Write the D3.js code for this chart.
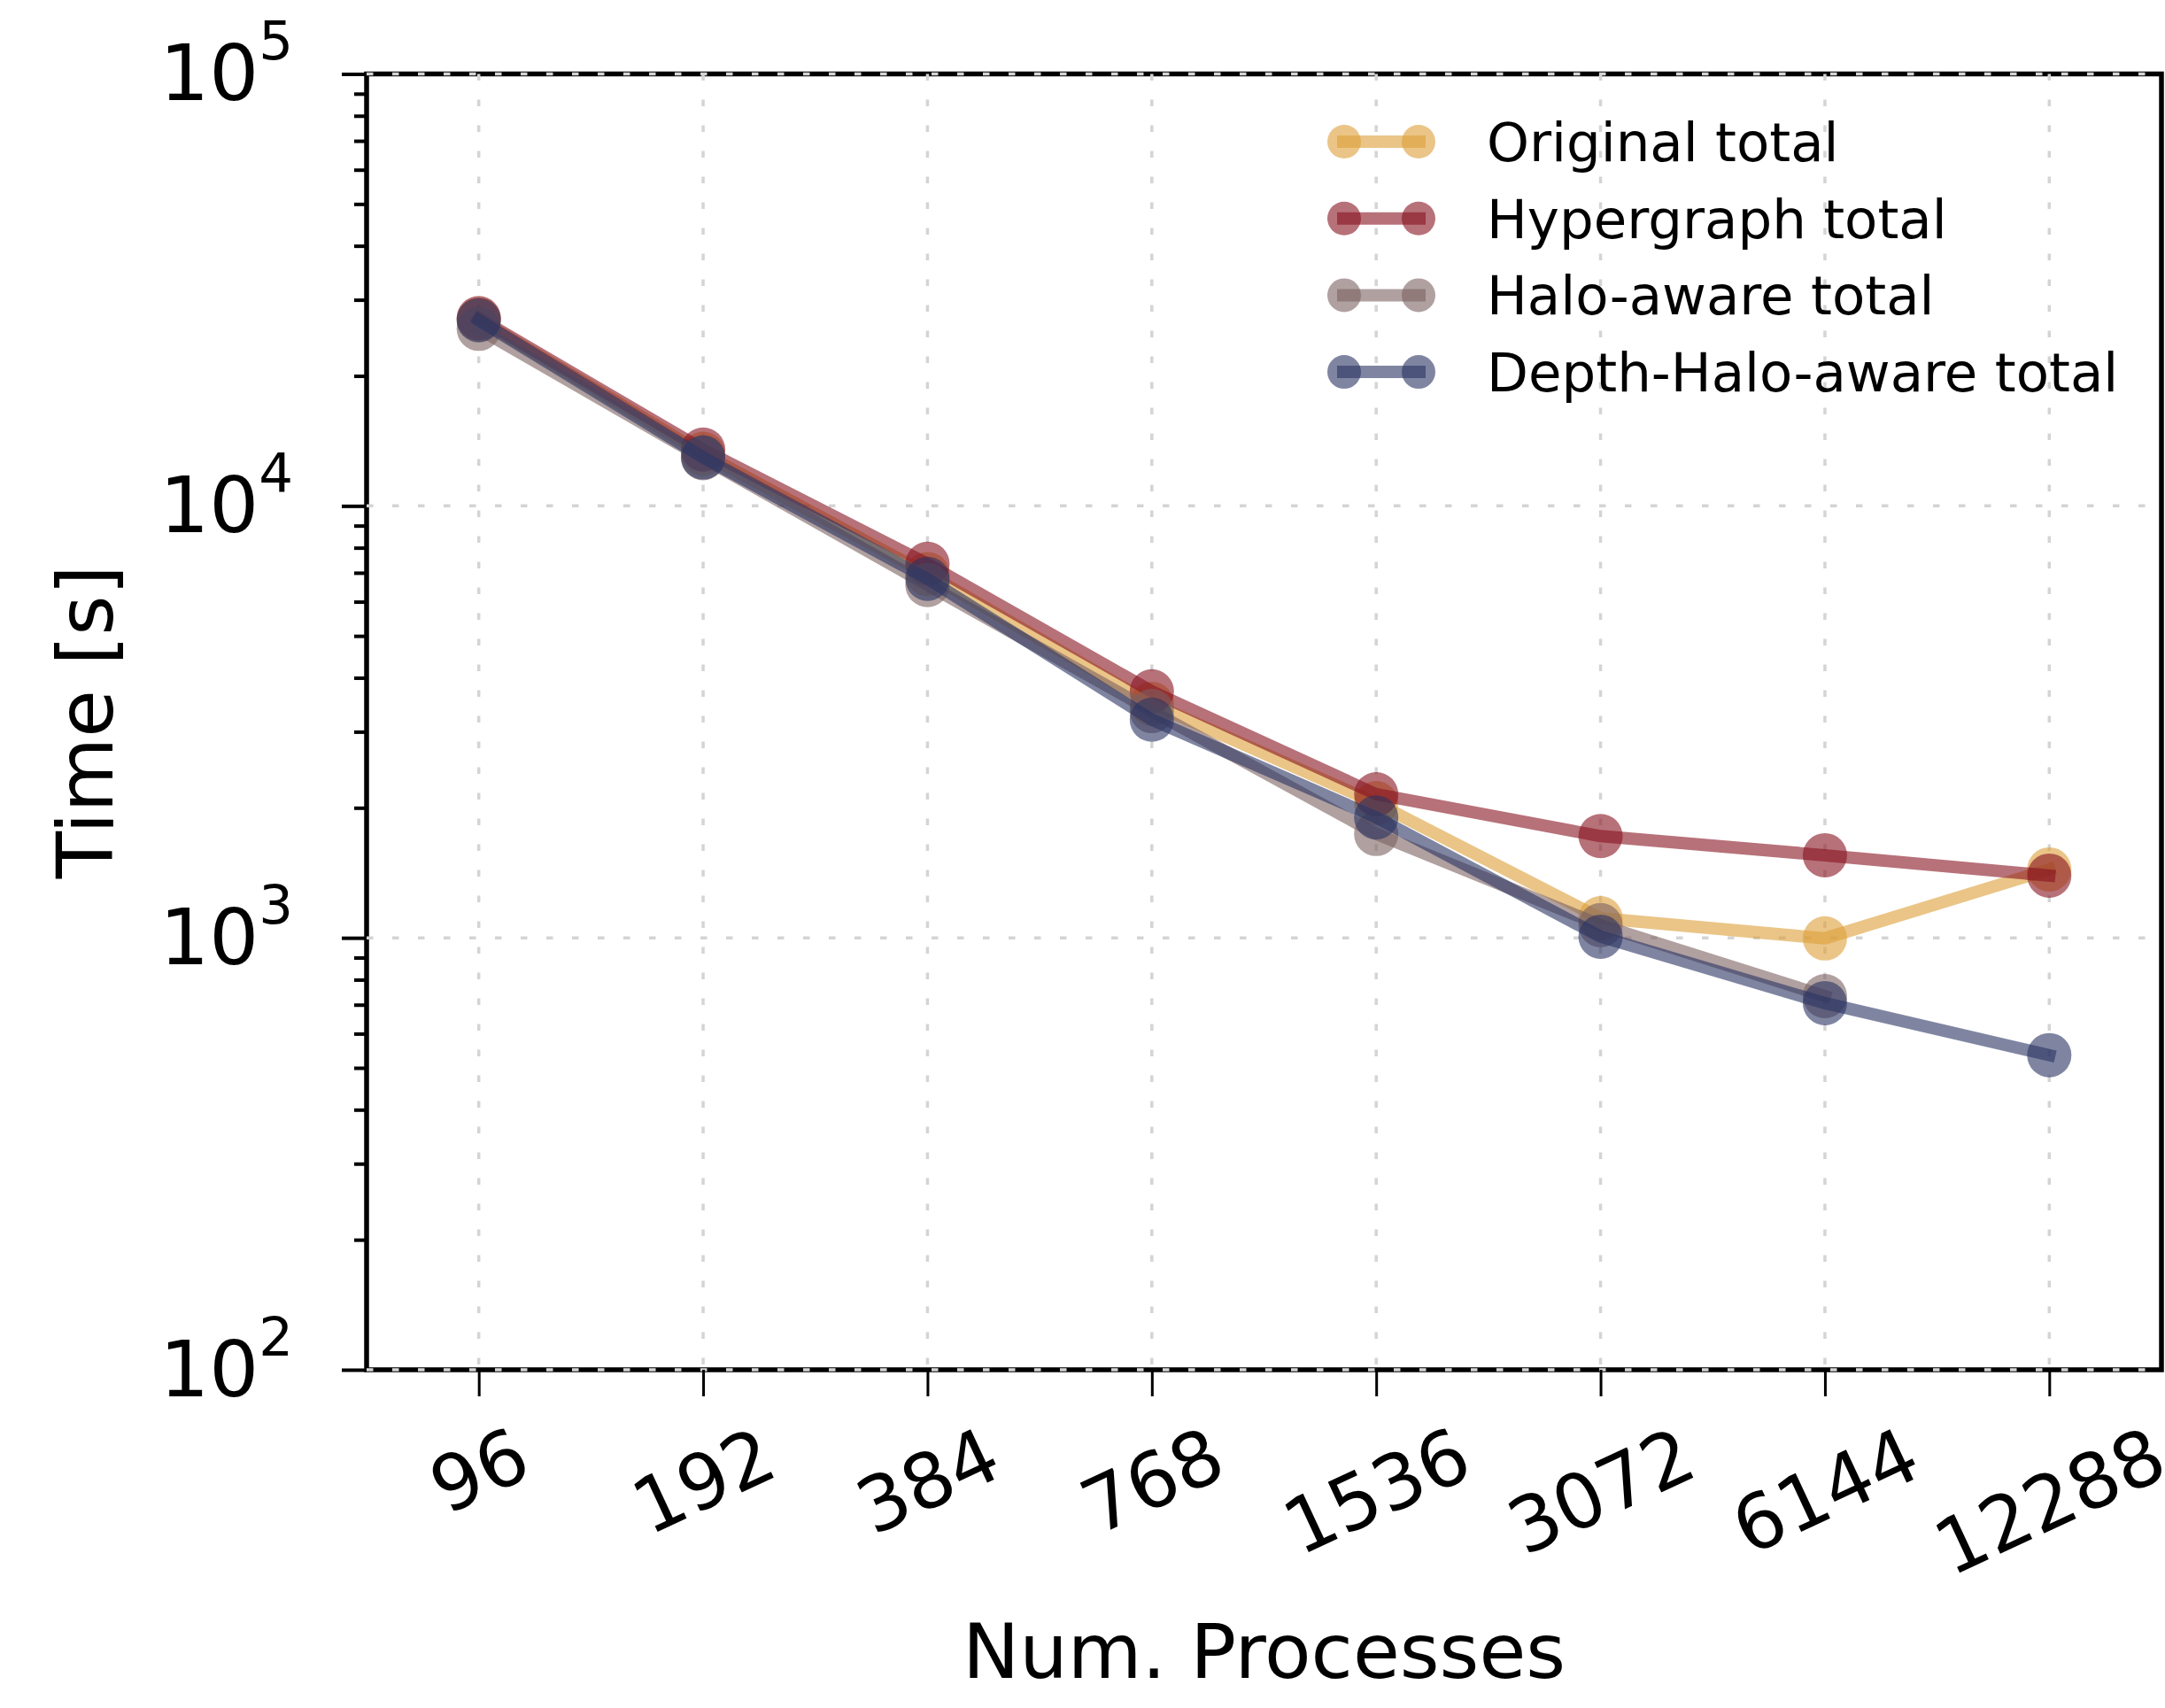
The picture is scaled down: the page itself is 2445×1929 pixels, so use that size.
<!DOCTYPE html>
<html>
<head>
<meta charset="utf-8">
<script src="https://cdn.jsdelivr.net/npm/d3@7"></script>
<style>
  body { margin: 0; background: #fff; }
  text { font-family: "DejaVu Sans", sans-serif; fill: #000; }
</style>
</head>
<body>
<svg id="chart"></svg>
<script>
// data
var procs = ["96", "192", "384", "768", "1536", "3072", "6144", "12288"];
var originalTotal   = [27000, 13200, 6950, 3480, 2050, 1110, 997, 1440];
var hypergraphTotal = [27200, 13500, 7340, 3720, 2150, 1720, 1553, 1393];
var haloTotal       = [25700, 12900, 6560, 3350, 1740, 1070, 733, null];
var depthHaloTotal  = [26900, 12950, 6780, 3200, 1900, 1006, 706, 535];
var seriesNames  = ["Original total", "Hypergraph total", "Halo-aware total", "Depth-Halo-aware total"];
var seriesColors = ["#dc9f37", "#87131f", "#7b6161", "#2a3462"];
var yMajor = [100, 1000, 10000, 100000];

var W = 2445, H = 1929;
var plotLeft = 414, plotRight = 2441, plotTop = 83.5, plotBottom = 1547;

var svg = d3.select("#chart").attr("width", W).attr("height", H);

var x = d3.scalePoint().domain(procs).range([plotLeft, plotRight]).padding(0.5);
var y = d3.scaleLog().domain([100, 100000]).range([plotBottom, plotTop]);

var minors = [];
yMajor.slice(0, -1).forEach(function(d) {
  for (var k = 2; k < 10; k++) minors.push(d * k);
});

// frame
svg.append("rect")
  .attr("x", plotLeft).attr("y", plotTop)
  .attr("width", plotRight - plotLeft).attr("height", plotBottom - plotTop)
  .attr("fill", "none")
  .attr("stroke", "#000")
  .attr("stroke-width", 5.5);

// grid (drawn over the spines, as in the original)
var grid = svg.append("g").attr("class", "grid")
  .attr("stroke", "#d4d4d4")
  .attr("stroke-width", 3.5)
  .attr("stroke-dasharray", "7.5,21.5");

grid.selectAll(".vgrid").data(procs).enter().append("line")
  .attr("x1", function(d) { return x(d); })
  .attr("x2", function(d) { return x(d); })
  .attr("y1", plotTop).attr("y2", plotBottom);

grid.selectAll(".hgrid").data(yMajor).enter().append("line")
  .attr("y1", function(d) { return y(d); })
  .attr("y2", function(d) { return y(d); })
  .attr("x1", plotLeft).attr("x2", plotRight);

// y axis ticks
var yAxis = svg.append("g")
  .attr("transform", "translate(" + plotLeft + ",0)")
  .call(d3.axisLeft(y).tickValues(yMajor).tickSize(28).tickFormat(""));
var yMinorAxis = svg.append("g")
  .attr("transform", "translate(" + plotLeft + ",0)")
  .call(d3.axisLeft(y).tickValues(minors).tickSize(14).tickFormat(""));
[yAxis, yMinorAxis].forEach(function(g) {
  g.select(".domain").remove();
  g.selectAll("line").attr("stroke", "#000").attr("stroke-width", 4);
});

// y tick labels 10^n
var yLabels = svg.append("g").selectAll("text")
  .data(yMajor).enter().append("text")
  .attr("x", 331)
  .attr("y", function(d) { return y(d) + 29.5; })
  .attr("text-anchor", "end")
  .style("font-size", "88px");
yLabels.append("tspan").text("10");
yLabels.append("tspan")
  .attr("dy", -46)
  .style("font-size", "61px")
  .text(function(d) { return Math.round(Math.log10(d)); });

// x axis ticks
var xAxis = svg.append("g")
  .attr("transform", "translate(0," + plotBottom + ")")
  .call(d3.axisBottom(x).tickSize(30).tickFormat(""));
xAxis.select(".domain").remove();
xAxis.selectAll("line").attr("stroke", "#000").attr("stroke-width", 3);

// rotated x tick labels, top of the rotated box at labelTop
var xfs = 86, ang = 25, labelTop = 1610;
var rad = ang * Math.PI / 180;
svg.append("g").selectAll("text")
  .data(procs).enter().append("text")
  .style("font-size", xfs + "px")
  .attr("text-anchor", "middle")
  .attr("dy", "0.3645em")
  .text(function(d) { return d; })
  .each(function(d) {
    var L = this.getComputedTextLength() - 0.1 * xfs;
    var hh = L * Math.sin(rad) + 0.729 * xfs * Math.cos(rad);
    var cx = x(d), cy = labelTop + hh / 2;
    d3.select(this)
      .attr("x", cx).attr("y", cy)
      .attr("transform", "rotate(" + (-ang) + "," + cx + "," + cy + ")");
  });

// axis titles
svg.append("text")
  .attr("x", (plotLeft + plotRight) / 2)
  .attr("y", 1895)
  .attr("text-anchor", "middle")
  .style("font-size", "86px")
  .text("Num. Processes");

svg.append("text")
  .attr("transform", "translate(127," + ((plotTop + plotBottom) / 2) + ") rotate(-90)")
  .attr("text-anchor", "middle")
  .style("font-size", "87px")
  .text("Time [s]");

// series
var allSeries = [originalTotal, hypergraphTotal, haloTotal, depthHaloTotal];
var line = d3.line()
  .defined(function(d) { return d != null; })
  .x(function(d, i) { return x(procs[i]); })
  .y(function(d) { return y(d); });

allSeries.forEach(function(vals, s) {
  var g = svg.append("g").attr("class", "series");
  g.append("path")
    .datum(vals)
    .attr("d", line)
    .attr("fill", "none")
    .attr("stroke", seriesColors[s])
    .attr("stroke-opacity", 0.6)
    .attr("stroke-width", 14)
    .attr("stroke-linecap", "square")
    .attr("stroke-linejoin", "round");
  g.selectAll("circle")
    .data(vals.map(function(v, i) { return {v: v, p: procs[i]}; })
      .filter(function(d) { return d.v != null; }))
    .enter().append("circle")
    .attr("cx", function(d) { return x(d.p); })
    .attr("cy", function(d) { return y(d.v); })
    .attr("r", 25)
    .attr("fill", seriesColors[s])
    .attr("fill-opacity", 0.6);
});

// legend
var legend = svg.append("g").attr("class", "legend");
seriesNames.forEach(function(name, i) {
  var cy = 160 + i * 86.7;
  legend.append("line")
    .attr("x1", 1510).attr("x2", 1610)
    .attr("y1", cy).attr("y2", cy)
    .attr("stroke", seriesColors[i])
    .attr("stroke-opacity", 0.6)
    .attr("stroke-width", 14);
  [1518, 1602].forEach(function(mx) {
    legend.append("circle")
      .attr("cx", mx).attr("cy", cy).attr("r", 19)
      .attr("fill", seriesColors[i])
      .attr("fill-opacity", 0.6);
  });
  legend.append("text")
    .attr("x", 1679)
    .attr("y", cy + 22)
    .style("font-size", "61px")
    .text(name);
});
</script>
</body>
</html>
